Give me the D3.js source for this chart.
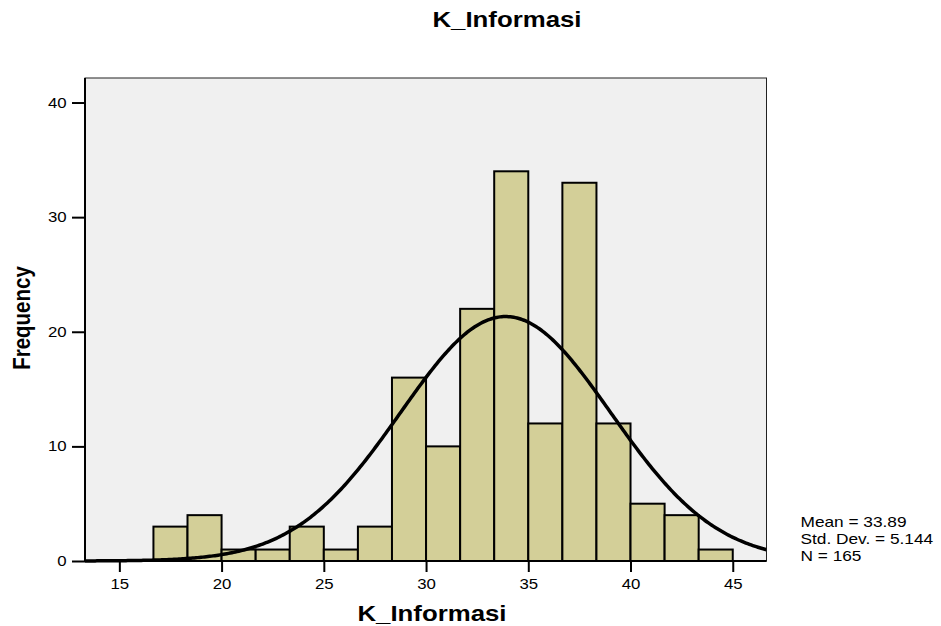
<!DOCTYPE html>
<html>
<head>
<meta charset="utf-8">
<script src="https://cdn.jsdelivr.net/npm/d3@7"></script>
<style>
  body { margin: 0; background: #ffffff; }
  svg { display: block; }
</style>
</head>
<body>
<div id="chart"></div>
<script>
// ==================== données ====================//
const binLow = [16.667, 18.333, 20, 21.667, 23.333, 25, 26.667, 28.333, 30,
                31.667, 33.333, 35, 36.667, 38.333, 40, 41.667, 43.333];
const binWidth = 1.6667;
const counts = [3, 4, 1, 1, 3, 1, 3, 16, 10, 22, 34, 12, 33, 12, 5, 4, 1];
const xTicks = [15, 20, 25, 30, 35, 40, 45];
const yTicks = [0, 10, 20, 30, 40];
const stats = { mean: 33.89, sd: 5.144, n: 165 };
const legendLines = ["Mean = 33.89", "Std. Dev. = 5.144", "N = 165"];

// ==================== mise en page ====================//
const width = 941;
const height = 626;
const plotLeft = 85, plotRight = 766.5, plotTop = 78, plotBottom = 561;
const SX = 1.2; // le texte de l'image est étiré horizontalement
const font = "'Liberation Sans', Arial, Helvetica, sans-serif";

const svg = d3.select("#chart")
    .append("svg")
    .attr("width", width)
    .attr("height", height)
    .style("font-family", font);

const x = d3.scaleLinear().domain([13.32, 46.65]).range([plotLeft, plotRight]);
const y = d3.scaleLinear().domain([0, 42.14]).range([plotBottom, plotTop]);

// fond du graphique
svg.append("rect")
    .attr("x", plotLeft).attr("y", plotTop)
    .attr("width", plotRight - plotLeft).attr("height", plotBottom - plotTop)
    .attr("fill", "#f0f0f0")
    .attr("stroke", "#222")
    .attr("stroke-width", 1);

// barres de l'histogramme
svg.append("g")
    .selectAll("rect")
    .data(counts)
    .enter()
    .append("rect")
    .attr("x", (d, i) => x(binLow[i]))
    .attr("y", d => y(d))
    .attr("width", (d, i) => x(binLow[i] + binWidth) - x(binLow[i]))
    .attr("height", d => y(0) - y(d))
    .attr("fill", "#d3cf98")
    .attr("stroke", "#000")
    .attr("stroke-width", 2);

// courbe normale (à partir de la moyenne, écart-type et N affichés)
svg.append("clipPath").attr("id", "plotclip")
    .append("rect")
    .attr("x", plotLeft).attr("y", plotTop)
    .attr("width", plotRight - plotLeft).attr("height", plotBottom - plotTop + 2);

const xs = d3.range(400).map(i => 13.32 + i * (46.65 - 13.32) / 399);
const normal = v => stats.n * binWidth *
    Math.exp(-0.5 * Math.pow((v - stats.mean) / stats.sd, 2)) / (stats.sd * Math.sqrt(2 * Math.PI));

svg.append("path")
    .datum(xs)
    .attr("clip-path", "url(#plotclip)")
    .attr("fill", "none")
    .attr("stroke", "#000")
    .attr("stroke-width", 3.5)
    .attr("d", d3.line().x(d => x(d)).y(d => y(normal(d))));

// ==================== axes ====================//
const yAxis = svg.append("g")
    .attr("transform", `translate(${plotLeft},0)`)
    .call(d3.axisLeft(y).tickValues(yTicks).tickSize(13).tickSizeOuter(0));

yAxis.select(".domain").remove();
yAxis.selectAll(".tick line").attr("stroke", "#000").attr("stroke-width", 2);
yAxis.selectAll(".tick text")
    .attr("x", -18.3 / SX)
    .attr("transform", `scale(${SX},1)`)
    .style("font-family", font)
    .style("font-size", "14px")
    .attr("fill", "#000");

const xAxis = svg.append("g")
    .attr("transform", `translate(0,${plotBottom})`)
    .call(d3.axisBottom(x).tickValues(xTicks).tickSize(11).tickSizeOuter(0));

xAxis.select(".domain").remove();
xAxis.selectAll(".tick line").attr("stroke", "#000").attr("stroke-width", 2);
xAxis.selectAll(".tick text")
    .attr("y", 28)
    .attr("dy", 0)
    .attr("transform", `scale(${SX},1)`)
    .style("font-family", font)
    .style("font-size", "14px")
    .attr("fill", "#000");

// lignes des axes (gauche et bas)
svg.append("line")
    .attr("x1", plotLeft).attr("x2", plotLeft).attr("y1", plotTop).attr("y2", plotBottom + 1)
    .attr("stroke", "#000").attr("stroke-width", 2);
svg.append("line")
    .attr("x1", plotLeft - 1).attr("x2", plotRight).attr("y1", plotBottom).attr("y2", plotBottom)
    .attr("stroke", "#000").attr("stroke-width", 2);

// ==================== textes ====================//
function stretchedText(tx, ty, txt, size, weight, anchor) {
    return svg.append("text")
        .attr("transform", `translate(${tx},${ty}) scale(${SX},1)`)
        .attr("text-anchor", anchor)
        .style("font-size", size + "px")
        .style("font-weight", weight)
        .attr("fill", "#000")
        .text(txt);
}

stretchedText(507, 27, "K_Informasi", 21.5, "bold", "middle");
stretchedText(432, 620.5, "K_Informasi", 21.5, "bold", "middle");

svg.append("text")
    .attr("transform", `translate(29.5,318) scale(${SX},1) rotate(-90)`)
    .attr("text-anchor", "middle")
    .style("font-size", "20.5px")
    .style("font-weight", "bold")
    .attr("fill", "#000")
    .text("Frequency");

legendLines.forEach((t, i) => {
    stretchedText(800.5, 527 + i * 17, t, 14.4, "normal", "start");
});
</script>
</body>
</html>
